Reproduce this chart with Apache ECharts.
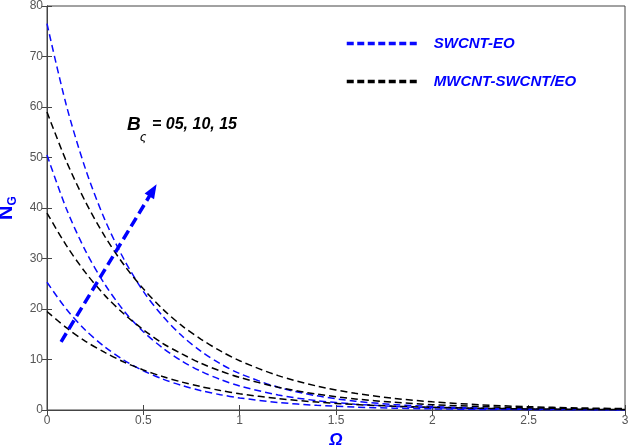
<!DOCTYPE html>
<html><head><meta charset="utf-8">
<script src="https://cdn.jsdelivr.net/npm/echarts@6/dist/echarts.min.js"></script>
<style>html,body{margin:0;padding:0;background:#fff}#c{width:629px;height:445px}</style>
</head><body><div id="c"></div><script>
// Omega sample positions
const omega = [0,0.1,0.2,0.3,0.4,0.5,0.6,0.7,0.8,0.9,1.0,1.2,1.4,1.6,1.8,2.0,2.25,2.5,2.75,3.0];
// SWCNT-EO curves (B = 05, 10, 15)
const swBot = [25.3,20.0,15.8,12.5,9.84,7.77,6.14,4.85,3.83,3.03,2.39,1.49,0.93,0.58,0.36,0.23,0.12,0.07,0.04,0.02];
const swMid = [50.5,39.9,31.5,24.9,19.6,15.5,12.3,9.68,7.65,6.04,4.77,2.97,1.85,1.16,0.72,0.45,0.25,0.14,0.08,0.04];
const swTop = [76.5,60.4,47.7,37.7,29.8,23.5,18.6,14.7,11.6,9.15,7.22,4.5,2.81,1.75,1.09,0.68,0.37,0.21,0.11,0.06];
// MWCNT-SWCNT/EO curves
const mwBot = [19.5,16.3,13.6,11.4,9.49,7.93,6.62,5.53,4.62,3.86,3.22,2.25,1.57,1.09,0.76,0.53,0.34,0.22,0.14,0.09];
const mwMid = [39,32.6,27.2,22.7,19.0,15.9,13.2,11.1,9.24,7.72,6.45,4.50,3.14,2.19,1.53,1.06,0.68,0.43,0.28,0.18];
const mwTop = [59,49.3,41.2,34.4,28.7,24.0,20.0,16.7,14.0,11.7,9.75,6.80,4.75,3.31,2.31,1.61,1.03,0.65,0.42,0.27];
// Arrow annotation (increasing B)
const arrowStart = [0.073, 13.5];
const arrowEnd = [0.55, 43.5];
const seriesNames = ['SWCNT-EO', 'MWCNT-SWCNT/EO'];

const BLUE = '#0a0aff', BLACK = '#000000';
const pts = arr => omega.map((x, i) => [x, arr[i]]);
const curve = (name, arr, color) => ({
  name, type: 'line', data: pts(arr), symbol: 'none', smooth: 0.3,
  xAxisIndex: 0, yAxisIndex: 0,
  lineStyle: { color, width: 1.5, type: [7, 4] }, itemStyle: { color }
});
const mkAxis = extra => Object.assign({
  min: 0,
  axisLine: { show: true, lineStyle: { color: '#444', width: 1 } },
  axisTick: { show: true, inside: true, length: 5, lineStyle: { color: '#444', width: 1 } },
  splitLine: { show: false }
}, extra);
const chart = echarts.init(document.getElementById('c'));
chart.setOption({
  animation: false,
  backgroundColor: '#fff',
  grid: { left: 47, right: 4, top: 6, bottom: 35, outerBoundsMode: 'none',
    show: true, borderColor: '#444', borderWidth: 1, backgroundColor: 'rgba(0,0,0,0)' },
  legend: {
    data: seriesNames, orient: 'vertical', left: 340, top: 31, itemGap: 23,
    itemWidth: 71, itemHeight: 14,
    lineStyle: { width: 3.5, type: [7, 3.5] },
    itemStyle: { color: 'rgba(0,0,0,0)', borderColor: 'rgba(0,0,0,0)', borderWidth: 0 },
    textStyle: { color: '#0000ff', fontFamily: 'Liberation Sans', fontWeight: 'bold', fontStyle: 'italic', fontSize: 15, padding: [0, 0, 0, 11] }
  },
  xAxis: [
    mkAxis({ type: 'value', max: 3, interval: 0.5, position: 'bottom',
      axisLabel: { color: '#555', fontFamily: 'Liberation Sans', fontSize: 12, margin: 5 },
      name: 'Ω', nameLocation: 'middle', nameGap: 22,
      nameTextStyle: { color: '#0000ff', fontFamily: 'Liberation Sans', fontWeight: 'bold', fontStyle: 'italic', fontSize: 17 } }),
    mkAxis({ type: 'value', max: 3, interval: 0.5, position: 'top', axisLabel: { show: false } })
  ],
  yAxis: [
    mkAxis({ type: 'value', max: 80, interval: 10, position: 'left',
      axisLabel: { color: '#555', fontFamily: 'Liberation Sans', fontSize: 12, margin: 4 },
      name: 'N{s|G}', nameLocation: 'middle', nameGap: 22, nameRotate: 90,
      nameTextStyle: { color: '#0000ff', fontFamily: 'Liberation Sans', fontWeight: 'bold', fontSize: 20,
        rich: { s: { color: '#0000ff', fontFamily: 'Liberation Sans', fontWeight: 'bold', fontSize: 12, padding: [12, 0, 0, 0] } } } }),
    mkAxis({ type: 'value', max: 80, interval: 10, position: 'right', axisLabel: { show: false } })
  ],
  series: [
    curve(seriesNames[0], swTop, BLUE),
    curve(seriesNames[0], swMid, BLUE),
    curve(seriesNames[0], swBot, BLUE),
    curve(seriesNames[1], mwTop, BLACK),
    curve(seriesNames[1], mwMid, BLACK),
    curve(seriesNames[1], mwBot, BLACK),
    { type: 'line', name: 'arrow', data: [], xAxisIndex: 0, yAxisIndex: 0,
      markLine: { silent: true, animation: false, symbol: ['none', 'triangle'], symbolSize: [11, 14],
        label: { show: false },
        lineStyle: { color: '#0000ff', width: 3.5, type: [10, 5] },
        itemStyle: { color: '#0000ff' },
        data: [[{ coord: arrowStart }, { coord: arrowEnd }]] } }
  ],
  graphic: [
    { type: 'text', left: 127, top: 115, style: { text: 'B', fill: '#000', font: 'italic bold 19px "Liberation Sans"' } },
    { type: 'text', left: 140, top: 131, style: { text: 'ς', fill: '#000', font: 'italic 13px "Liberation Sans"' } },
    { type: 'text', left: 152, top: 117, style: { text: '= 05, 10, 15', fill: '#000', font: 'italic bold 16px "Liberation Sans"' } }
  ]
});
</script></body></html>
